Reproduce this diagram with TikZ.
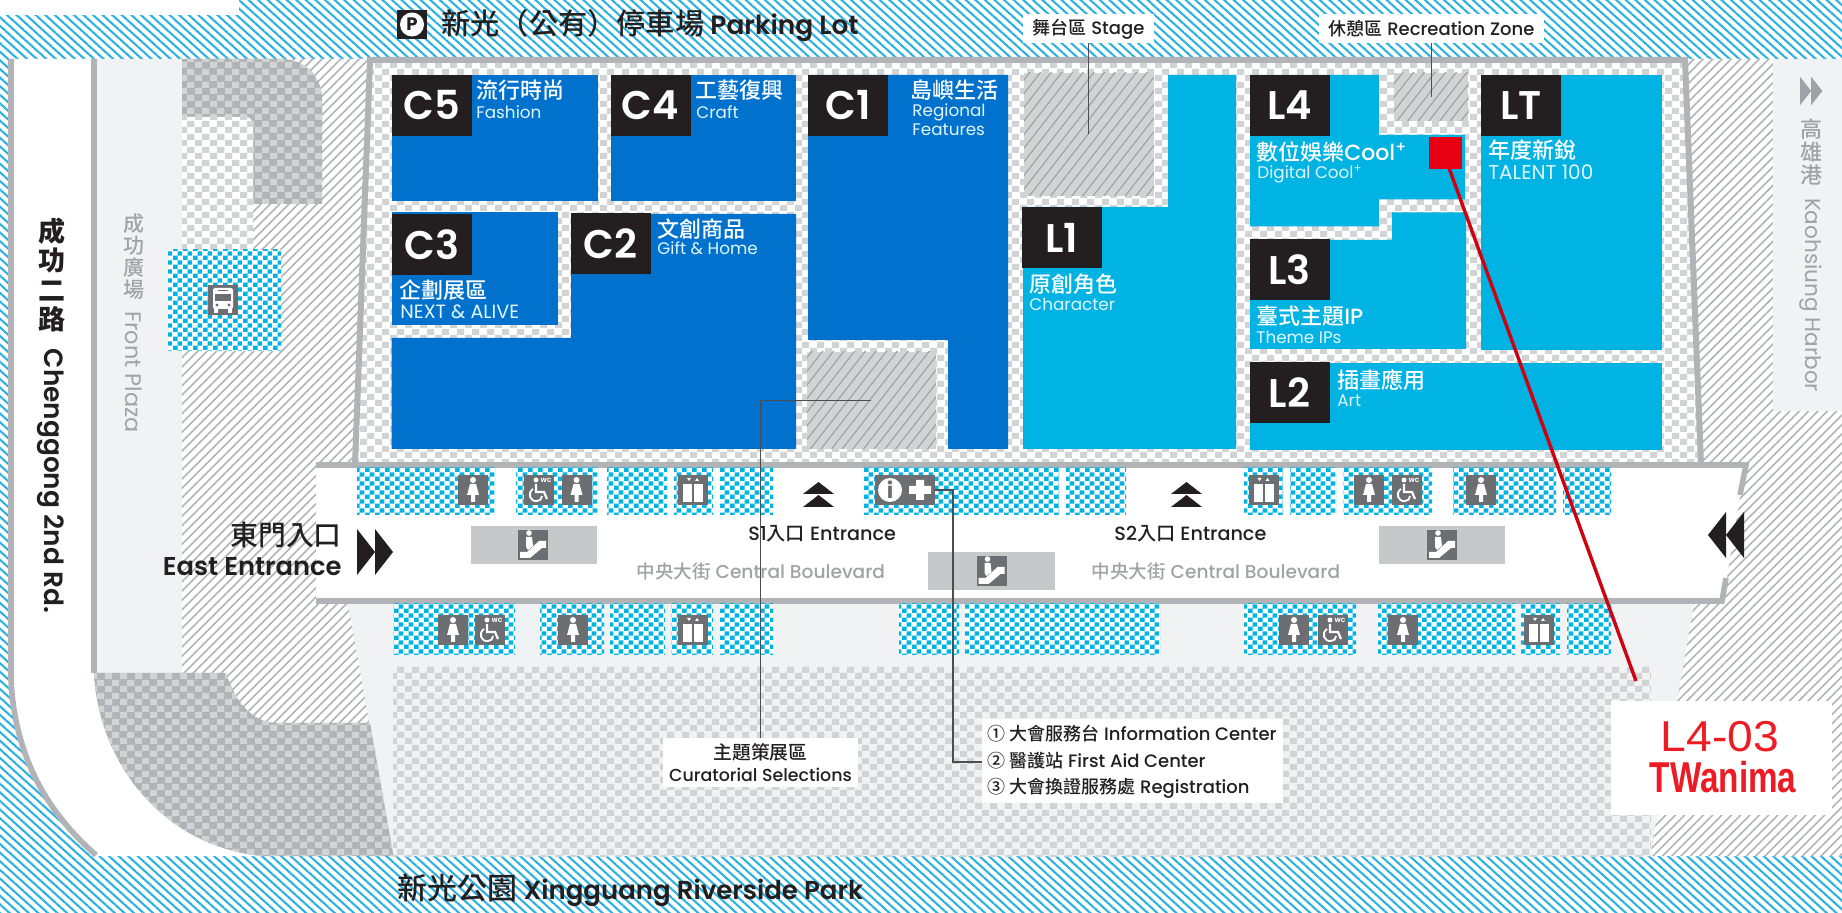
\documentclass[tikz,border=0pt]{standalone}
\usepackage{fontspec}
\usepackage{xcolor}
\usetikzlibrary{patterns,patterns.meta}
\setmainfont{Poppins}
\newfontfamily\midfont{Poppins Medium}
\newfontfamily\semifont{Poppins SemiBold}
\newfontfamily\cjk{Noto Sans CJK TC Medium}
\newfontfamily\redfont{Liberation Sans}
\definecolor{DeepBlue}{RGB}{0,114,206}
\definecolor{SkyBlue}{RGB}{0,179,227}
\definecolor{HatchBlue}{RGB}{45,178,224}
\definecolor{TagBlack}{RGB}{35,31,32}
\definecolor{WallGray}{RGB}{177,179,182}
\definecolor{CheckGray}{RGB}{209,211,212}
\definecolor{BarGray}{RGB}{199,200,202}
\definecolor{PaleGray}{RGB}{241,242,244}
\definecolor{IconGray}{RGB}{109,110,113}
\definecolor{TextGray}{RGB}{160,162,165}
\definecolor{PinRed}{RGB}{230,0,18}
\definecolor{BoothRed}{RGB}{237,28,36}
\pgfdeclarepatternformonly{checkwide}{\pgfqpoint{0pt}{0pt}}{\pgfqpoint{7.5pt}{6.5pt}}{\pgfqpoint{7.5pt}{6.5pt}}{%
  \pgfpathrectangle{\pgfqpoint{0pt}{0pt}}{\pgfqpoint{3.75pt}{3.25pt}}%
  \pgfpathrectangle{\pgfqpoint{3.75pt}{3.25pt}}{\pgfqpoint{3.75pt}{3.25pt}}%
  \pgfusepath{fill}}
\pgfdeclarepatternformonly{checkfine}{\pgfqpoint{0pt}{0pt}}{\pgfqpoint{4.8pt}{4.4pt}}{\pgfqpoint{4.8pt}{4.4pt}}{%
  \pgfpathrectangle{\pgfqpoint{0pt}{0pt}}{\pgfqpoint{2.4pt}{2.2pt}}%
  \pgfpathrectangle{\pgfqpoint{2.4pt}{2.2pt}}{\pgfqpoint{2.4pt}{2.2pt}}%
  \pgfusepath{fill}}
\tikzset{
    x=0.5pt, y=-0.5pt,
    bluehatch/.style={preaction={fill=white}, pattern={Lines[angle=-42,distance=3.2pt,line width=1.05pt]}, pattern color=HatchBlue},
    grayhatch/.style={preaction={fill=white}, pattern={Lines[angle=45,distance=3.3pt,line width=0.8pt]}, pattern color=WallGray},
    areahatch/.style={preaction={fill=CheckGray}, pattern={Lines[angle=52,distance=4.2pt,line width=0.6pt]}, pattern color=TextGray},
    lightcheck/.style={preaction={fill=white}, pattern=checkwide, pattern color=CheckGray},
    palecheck/.style={preaction={fill=PaleGray}, pattern=checkwide, pattern color=CheckGray},
    darkcheck/.style={preaction={fill=WallGray}, pattern=checkwide, pattern color=CheckGray},
    bluecheck/.style={preaction={fill=white}, pattern=checkfine, pattern color=SkyBlue},
    tagbox/.style={fill=TagBlack, text=white, inner sep=0pt, minimum width=40pt, minimum height=30.5pt, font=\fontsize{20}{20}\selectfont\semifont},
    zhlabel/.style={anchor=west, inner sep=0pt, text=white, font=\fontsize{11}{11}\selectfont\cjk},
    enlabel/.style={anchor=west, inner sep=0pt, text=white!88!SkyBlue, font=\fontsize{8.4}{8.4}\selectfont},
    calllabel/.style={fill=white, inner sep=0pt, text=TagBlack, font=\fontsize{9}{9}\selectfont\midfont},
    leaderline/.style={draw=IconGray!70!black, line width=0.75pt},
    roadtext/.style={inner sep=0pt, text=TagBlack},
    icon/.pic={\fill[IconGray] (-15,-15) rectangle (15,15);},
    pics/woman/.style={code={
        \pic {icon};
        \fill[white] (0,-10) circle (3);
        \fill[white] (-3,-6) -- (3,-6) -- (6,5) -- (2,5) -- (2,12) -- (-2,12) -- (-2,5) -- (-6,5) -- cycle;
    }},
    pics/wheelchair/.style={code={
        \pic {icon};
        \fill[white] (-3,-10) circle (2.5);
        \draw[white, line width=1.1pt] (-3,-6) -- (-3,2) -- (5,2) -- (8,9);
        \draw[white, line width=0.9pt] (-6,-1) .. controls (-12,3) and (-9,12) .. (-2,11) .. controls (1,11) and (3,9) .. (3,6);
        \node[white, inner sep=0pt, font=\fontsize{3}{3}\selectfont\bfseries] (wc) at (7,-10) {WC};
    }},
    pics/lift/.style={code={
        \pic {icon};
        \fill[white] (-10,-6) rectangle (-1,12);
        \fill[white] (1,-6) rectangle (10,12);
        \fill[white] (-6,-12) -- (-2,-12) -- (-4,-9) -- cycle;
        \fill[white] (2,-9) -- (6,-9) -- (4,-12) -- cycle;
    }},
    pics/escalator/.style={code={
        \pic {icon};
        \fill[white] (-4,-12) circle (2.8);
        \fill[white] (-7,-8) -- (-1,-8) -- (0,1) -- (-5,5) -- (-7,2) -- cycle;
        \fill[white] (-13,7) -- (-6,7) -- (6,-4) -- (13,-4) -- (13,3) -- (9,3) -- (-3,13) -- (-13,13) -- cycle;
    }},
    pics/busicon/.style={code={
        \pic {icon};
        \fill[white, rounded corners=1pt] (-10,-12) rectangle (10,9);
        \fill[IconGray] (-8,-6) rectangle (8,1);
        \fill[IconGray] (-5,-10) rectangle (5,-8.5);
        \fill[IconGray] (-6,5) circle (1.7) (6,5) circle (1.7);
        \fill[white] (-9,9) rectangle (-5,13) (5,9) rectangle (9,13);
    }},
    pics/gotip/.style={code={
        \fill (0,-23) -- (0,23) -- (18,0) -- cycle;
        \fill (18,-23) -- (18,23) -- (36,0) -- cycle;
    }},
}
\begin{document}
\begin{tikzpicture}
\useasboundingbox (0,0) rectangle (1842,913);
% Ground
\path[bluehatch] (0,0) rectangle (1842,913);
\fill[white] (0,0) rectangle (239,15);
\fill[PaleGray] (97,59) rectangle (182,673);
\fill[white] (11,59) -- (11,680) .. controls (15,760) and (50,815) .. (98,856) -- (261,856) .. controls (160,845) and (98,760) .. (94,673) -- (94,59) -- cycle;
\path[grayhatch] (182,59) -- (372,59) -- (348,603) -- (370,723) -- (226,723) -- (226,673) -- (182,673) -- cycle;
\path[grayhatch] (1685,59) -- (1773,59) -- (1773,411) -- (1842,411) -- (1842,856) -- (1650,856) -- (1694,603) -- (1701,465) -- cycle;
\fill[PaleGray] (1773,59) rectangle (1842,411);
\fill[PaleGray] (348,603) -- (1694,603) -- (1650,856) -- (393,856) -- cycle;
\path[palecheck] (393,667) rectangle (1651,856);
\path[darkcheck] (94,673) -- (226,673) .. controls (235,700) and (250,722) .. (277,723) -- (370,723) -- (393.5,856) -- (261,856) .. controls (160,845) and (98,760) .. (94,673) -- cycle;
\path[darkcheck] (182,59) -- (285,59) .. controls (310,62) and (322,80) .. (322,100) -- (322,204) -- (253,204) -- (253,125) .. controls (253,120) and (250,117) .. (245,117) -- (182,117) -- cycle;
\path[lightcheck] (182,117) -- (245,117) .. controls (250,117) and (253,120) .. (253,125) -- (253,250) -- (182,250) -- cycle;
\draw[WallGray, line width=2.8pt] (11,59) -- (11,680) .. controls (15,760) and (50,815) .. (96,855);
\draw[WallGray, line width=2.8pt] (94,59) -- (94,673);
\path[bluecheck] (168,250) rectangle (281,351);

% Building
\path[lightcheck] (370,60) -- (1685,60) -- (1701,465) -- (355,465) -- cycle;
\draw[WallGray, line width=3pt] (355,465) -- (370,60) -- (1685,60) -- (1701,465);

% Halls
\fill[DeepBlue] (391.5,75) rectangle (598,201);
\fill[DeepBlue] (611,75) rectangle (796,201);
\fill[DeepBlue] (391.5,212) rectangle (558,325);
\fill[DeepBlue] (571,214) -- (796,214) -- (796,449) -- (391.5,449) -- (391.5,338) -- (571,338) -- cycle;
\fill[DeepBlue] (808,75) -- (1008,75) -- (1008,449) -- (948,449) -- (948,340) -- (808,340) -- cycle;
\fill[SkyBlue] (1168,75) -- (1236,75) -- (1236,449) -- (1023,449) -- (1023,207) -- (1168,207) -- cycle;
\fill[SkyBlue] (1250,75) -- (1379,75) -- (1379,135) -- (1465,135) -- (1465,199.5) -- (1379,199.5) -- (1379,226.5) -- (1250,226.5) -- cycle;
\fill[SkyBlue] (1250,240) -- (1392,240) -- (1392,212.5) -- (1466,212.5) -- (1466,349) -- (1250,349) -- cycle;
\fill[SkyBlue] (1481,75) rectangle (1662,350);
\fill[SkyBlue] (1250,363) rectangle (1662,450);
\path[areahatch] (1024,73) rectangle (1154,196);
\path[areahatch] (807,352) rectangle (936,449);
\path[areahatch] (1394,73) rectangle (1468,121);
\fill[PinRed] (1429,137) rectangle (1462,169);

% Boulevard
\fill[white] (316,465) -- (1745,465) -- (1723,601) -- (316,601) -- cycle;
\draw[WallGray, line width=2.8pt] (316,465) -- (1746,465) -- (1740,495);
\draw[WallGray, line width=2.8pt] (1726,578) -- (1722,601) -- (316,601);
\foreach \a/\b in {357/495,516/598,607/667,674/713,720/773,864/1059,1066/1126,1244/1283,1290/1336,1343/1432,1453/1556,1563/1611} {
    \path[bluecheck] (\a,468) rectangle (\b,515);
}
\foreach \a/\b in {393/515,540/604,610/665,671/713,720/773,899/959,965/1160,1244/1356,1378/1515,1521/1560,1567/1611} {
    \path[bluecheck] (\a,604) rectangle (\b,655);
}
\fill[BarGray] (471,526) rectangle (597,564);
\fill[BarGray] (928,552) rectangle (1055,590);
\fill[BarGray] (1379,526) rectangle (1505,564);

% Icons
\foreach \x in {473,576.5,1369,1481} {\pic at (\x,490) {woman};}
\foreach \x in {453,573,1294,1403} {\pic at (\x,630) {woman};}
\foreach \x in {539,1407} {\pic at (\x,490) {wheelchair};}
\foreach \x in {490,1333} {\pic at (\x,630) {wheelchair};}
\foreach \x in {693,1263.5} {\pic at (\x,490) {lift};}
\foreach \x in {693,1539} {\pic at (\x,630) {lift};}
\pic at (533,545) {escalator};
\pic at (991.5,571) {escalator};
\pic at (1442,545) {escalator};
\pic at (223,300) {busicon};
\node[fill=IconGray, minimum width=15pt, minimum height=15pt, inner sep=0pt] (infobox) at (890,490) {};
\node[circle, fill=white, minimum size=12pt, inner sep=0pt, text=IconGray, font=\fontsize{11}{11}\selectfont\bfseries] (info) at (890,490) {i};
\node[fill=IconGray, minimum width=15pt, minimum height=15pt, inner sep=0pt] (aid) at (920,490) {};
\fill[white] (916,480) rectangle (924,500) (909,486) rectangle (931,494);
\node[fill=TagBlack, minimum width=15pt, minimum height=14.5pt, inner sep=0pt] (parkbox) at (412,24.5) {};
\node[circle, fill=white, minimum size=12pt, inner sep=0pt, text=TagBlack, font=\fontsize{9}{9}\selectfont\bfseries] (park) at (412,24.5) {P};

% Arrows
\pic[TagBlack] at (357,552) {gotip};
\pic[TagBlack, xscale=-1] at (1744,535) {gotip};
\pic[TextGray, scale=0.62] at (1800,91) {gotip};
\foreach \x in {818.5,1186.5} {
    \fill[TagBlack] (\x-15.5,494) -- (\x+15.5,494) -- (\x,482) -- cycle;
    \fill[TagBlack] (\x-15.5,507) -- (\x+15.5,507) -- (\x,495) -- cycle;
}

% Tags
\node[tagbox] (c5) at (431.75,105.5) {C5};
\node[tagbox] (c4) at (650.5,105.5) {C4};
\node[tagbox] (c1) at (848,105.5) {C1};
\node[tagbox] (c3) at (431.75,244.5) {C3};
\node[tagbox] (c2) at (610.5,244) {C2};
\node[tagbox] (l1) at (1062,237.5) {L1};
\node[tagbox] (l4) at (1289.5,105.5) {L4};
\node[tagbox] (l3) at (1289.5,270) {L3};
\node[tagbox] (l2) at (1289.5,393) {L2};
\node[tagbox] (lt) at (1521,105.5) {LT};

% Hall names
\node[zhlabel] (c5zh) at (476,90) {流行時尚};
\node[enlabel] (c5en) at (476,112) {Fashion};
\node[zhlabel] (c4zh) at (695,90) {工藝復興};
\node[enlabel] (c4en) at (696,112) {Craft};
\node[zhlabel] (c1zh) at (910,90) {島嶼生活};
\node[enlabel] (c1en) at (912,112) {Regional};
\node[enlabel] (c1ex) at (912,130) {Features};
\node[zhlabel] (c3zh) at (399,290) {企劃展區};
\node[enlabel, font=\fontsize{9.6}{9.6}\selectfont] (c3en) at (400,312) {NEXT \& ALIVE};
\node[zhlabel] (c2zh) at (657,229) {文創商品};
\node[enlabel] (c2en) at (657,248) {Gift \& Home};
\node[zhlabel] (l1zh) at (1029,284) {原創角色};
\node[enlabel] (l1en) at (1029,304) {Character};
\node[zhlabel] (l4zh) at (1256,152) {數位娛樂{\midfont Cool\textsuperscript{+}}};
\node[enlabel] (l4en) at (1257,174) {Digital Cool\textsuperscript{+}};
\node[zhlabel] (ltzh) at (1488,150) {年度新銳};
\node[enlabel, font=\fontsize{10}{10}\selectfont] (lten) at (1488,172) {TALENT 100};
\node[zhlabel] (l3zh) at (1256,316) {臺式主題{\midfont IP}};
\node[enlabel] (l3en) at (1256,337) {Theme IPs};
\node[zhlabel] (l2zh) at (1337,380) {插畫應用};
\node[enlabel] (l2en) at (1337,401) {Art};

% Street names
\node[roadtext, anchor=west, font=\fontsize{13.2}{13.2}\selectfont\semifont] (parking) at (441,26) {{\cjk\fontsize{14.6}{14.6}\selectfont 新光（公有）停車場} Parking Lot};
\node[roadtext, anchor=west, font=\fontsize{13}{13}\selectfont\semifont] (park2) at (397,890) {{\cjk\fontsize{15}{15}\selectfont 新光公園} Xingguang Riverside Park};
\node[roadtext, align=center, font=\fontsize{13.5}{14.6}\selectfont\cjk\bfseries] (roadzh) at (52,275) {成\\功\\二\\路};
\node[roadtext, rotate=-90, font=\fontsize{13.2}{13.2}\selectfont\semifont] (roaden) at (51,481) {Chenggong 2nd Rd.};
\node[roadtext, text=TextGray, align=center, font=\fontsize{10.5}{11}\selectfont\cjk] (plazazh) at (134,257) {成\\功\\廣\\場};
\node[roadtext, text=TextGray, rotate=-90, font=\fontsize{11.2}{11.2}\selectfont] (plazaen) at (134,372) {Front Plaza};
\node[roadtext, text=TextGray, align=center, font=\fontsize{11}{11.5}\selectfont\cjk] (harbourzh) at (1811,152) {高\\雄\\港};
\node[roadtext, text=TextGray, rotate=-90, font=\fontsize{10.8}{10.8}\selectfont] (harbouren) at (1811,295) {Kaohsiung Harbor};
\node[roadtext, anchor=east, font=\fontsize{13.9}{13.9}\selectfont\cjk] (eastzh) at (342,535) {東門入口};
\node[roadtext, anchor=east, font=\fontsize{12.9}{12.9}\selectfont\semifont] (easten) at (342,567) {East Entrance};
\node[roadtext, anchor=west, font=\fontsize{9.6}{9.6}\selectfont\midfont] (s1) at (748,534) {S1{\cjk 入口} Entrance};
\node[roadtext, anchor=west, font=\fontsize{9.6}{9.6}\selectfont\midfont] (s2) at (1114,534) {S2{\cjk 入口} Entrance};
\node[roadtext, text=TextGray, anchor=west, font=\fontsize{9.3}{9.3}\selectfont\midfont] (blvd1) at (636,571) {{\cjk 中央大街} Central Boulevard};
\node[roadtext, text=TextGray, anchor=west, font=\fontsize{9.3}{9.3}\selectfont\midfont] (blvd2) at (1091,571) {{\cjk 中央大街} Central Boulevard};

% Callouts
\fill[white] (1023,14) rectangle (1154,43);
\fill[white] (1319,14) rectangle (1544,43);
\fill[white] (663,738) rectangle (858,787);
\fill[white] (982,719) rectangle (1283,803);
\fill[white] (1611,701) rectangle (1832,815);
\node[calllabel] (stage) at (1088.5,29) {{\cjk 舞台區} Stage};
\node[calllabel] (rest) at (1431.5,29) {{\cjk 休憩區} Recreation Zone};
\node[calllabel, align=center, font=\fontsize{8.7}{11}\selectfont\midfont] (curated) at (760.5,763) {{\cjk\fontsize{9.4}{11}\selectfont 主題策展區}\\Curatorial Selections};
\node[calllabel, anchor=west] (desk) at (987,734) {{\cjk ① 大會服務台} Information Center};
\node[calllabel, anchor=west] (firstaid) at (987,761) {{\cjk ② 醫護站} First Aid Center};
\node[calllabel, anchor=west] (regist) at (987,788) {{\cjk ③ 大會換證服務處} Registration};
\coordinate (stagepin) at (1088.5,134);
\coordinate (restpin) at (1431.5,97);
\coordinate (curatedpin) at (871,400.5);
\coordinate (booth) at (1449,168);
\coordinate (boothend) at (1636,681);

% Leaders
\draw[leaderline] (stage.south |- 0,43) -- (stagepin);
\draw[leaderline] (rest.south |- 0,43) -- (restpin);
\draw[leaderline] (curated.north |- 0,738) |- (curatedpin);
\draw[leaderline] (aid.east) -| (953,762) -- (982,762);
\draw[PinRed!90!black, line width=1.7pt] (booth) -- (boothend);

% Booth
\node[text=BoothRed, inner sep=0pt, xscale=1.07, transform shape, font=\fontsize{21.6}{21.6}\selectfont\redfont] (boothno) at (1720,737) {L4-03};
\node[text=BoothRed, inner sep=0pt, xscale=0.77, transform shape, font=\fontsize{21.6}{21.6}\selectfont\redfont\bfseries] (boothname) at (1723,777) {TWanima};
\end{tikzpicture}
\end{document}
